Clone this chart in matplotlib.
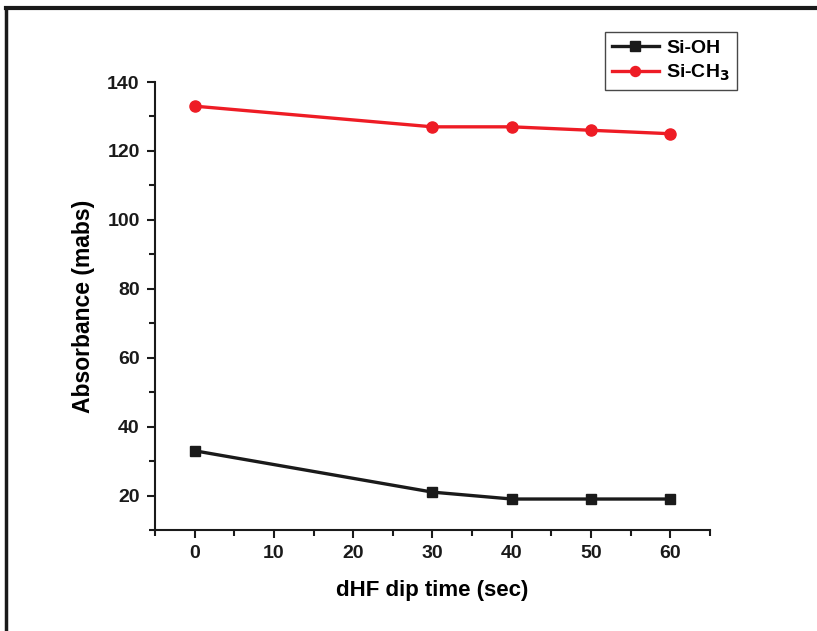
import matplotlib
matplotlib.use("Agg")
import matplotlib.pyplot as plt
from matplotlib.lines import Line2D
from matplotlib.ticker import MultipleLocator

plt.rcParams['font.family'] = ['Liberation Sans', 'DejaVu Sans']
plt.rcParams['font.weight'] = 'bold'
plt.rcParams['mathtext.default'] = 'bf'

dip_time = [0, 30, 40, 50, 60]
si_oh = [33, 21, 19, 19, 19]
si_ch3 = [133, 127, 127, 126, 125]

fig = plt.figure(figsize=(8.17, 6.31), dpi=100)
ax = fig.add_axes([0.1897, 0.160, 0.6793, 0.710])

ax.plot(dip_time, si_oh, color='#1a1a1a', lw=2.4, marker='s', ms=7.5, label='Si-OH')
ax.plot(dip_time, si_ch3, color='#ee1c25', lw=2.4, marker='o', ms=8, label='Si-CH$_3$')

ax.set_xlim(-5, 65)
ax.set_ylim(10, 140)
ax.xaxis.set_major_locator(MultipleLocator(10))
ax.xaxis.set_minor_locator(MultipleLocator(5))
ax.yaxis.set_major_locator(MultipleLocator(20))
ax.yaxis.set_minor_locator(MultipleLocator(10))
ax.spines['top'].set_visible(False)
ax.spines['right'].set_visible(False)
for s in ('left', 'bottom'):
    ax.spines[s].set_linewidth(1.5)
    ax.spines[s].set_color('#1a1a1a')
ax.tick_params(which='both', direction='out', width=1.5, colors='#1a1a1a', labelsize=14, pad=5)
ax.tick_params(which='major', length=6)
ax.tick_params(which='minor', length=4)
for lbl in ax.get_xticklabels() + ax.get_yticklabels():
    lbl.set_fontweight('bold')

ax.set_xlabel('dHF dip time (sec)', fontsize=16, fontweight='bold', labelpad=13)
ax.set_ylabel('Absorbance (mabs)', fontsize=16.5, fontweight='bold', labelpad=9)

leg = fig.legend(*ax.get_legend_handles_labels(), loc='upper right',
                 bbox_to_anchor=(0.902, 0.949), fontsize=14, frameon=True,
                 fancybox=False, edgecolor='#1a1a1a', handlelength=2.4,
                 handletextpad=0.4, borderpad=0.35, labelspacing=0.3,
                 borderaxespad=0.0, markerscale=0.9)
leg.get_frame().set_linewidth(1.0)

# figure frame on top and left edges
fig.add_artist(Line2D([0.0075, 1.0], [0.9875, 0.9875], transform=fig.transFigure, color='#1a1a1a', lw=3))
fig.add_artist(Line2D([0.0075, 0.0075], [0.0, 0.9875], transform=fig.transFigure, color='#1a1a1a', lw=2.5))

fig.savefig('out.png', dpi=100)
